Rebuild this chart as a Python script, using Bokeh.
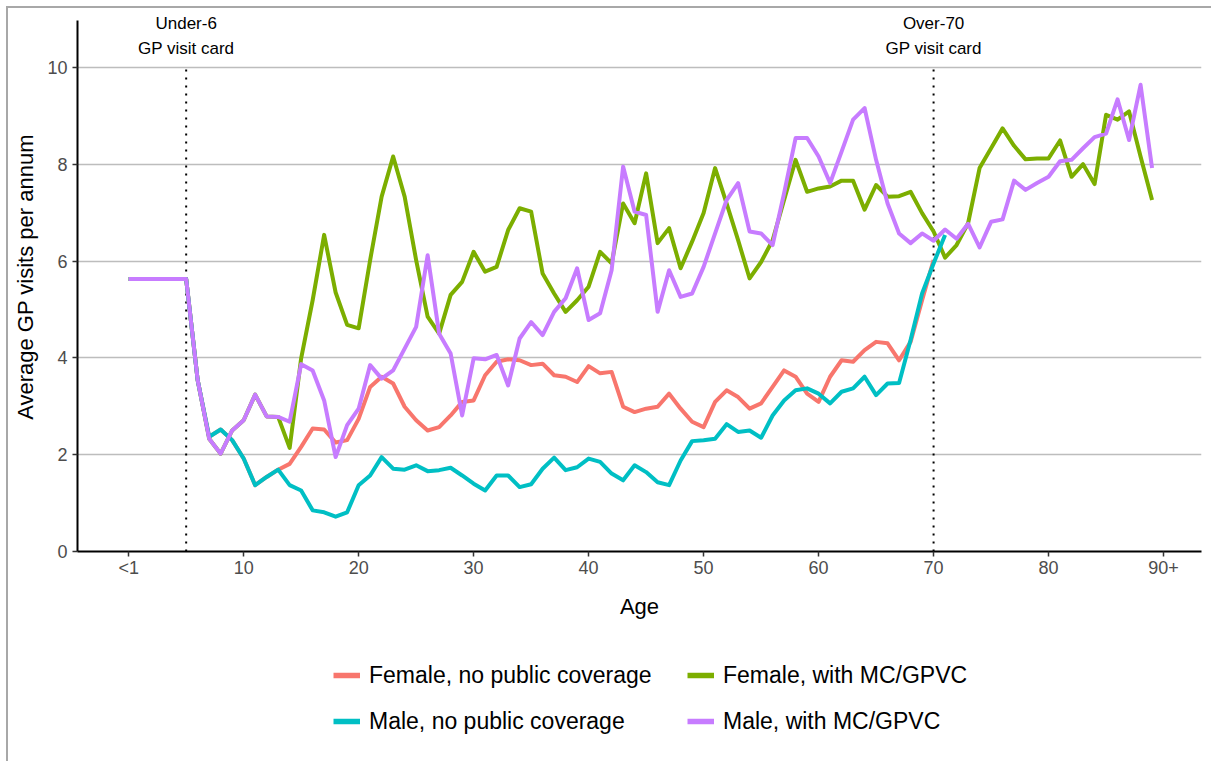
from bokeh.plotting import figure
from bokeh.models import Range1d, FixedTicker, Legend, LegendItem
from bokeh.layouts import column
from bokeh.embed import file_html
from bokeh.resources import INLINE
from bokeh.core.properties import value

# ---------------- data ----------------
series_names = ["Female, no public coverage", "Female, with MC/GPVC",
                "Male, no public coverage", "Male, with MC/GPVC"]
colors = ["#F8766D", "#7CAE00", "#00BFC4", "#C77CFF"]

female_no = [5.63, 5.63, 5.63, 5.63, 5.63, 5.63, 3.54, 2.37, 2.52, 2.30,
             1.92, 1.37, 1.54, 1.69, 1.81, 2.16, 2.54, 2.52, 2.25, 2.30,
             2.74, 3.40, 3.61, 3.47, 2.99, 2.71, 2.50, 2.57, 2.81, 3.09,
             3.12, 3.64, 3.92, 3.97, 3.95, 3.85, 3.88, 3.64, 3.61, 3.50,
             3.83, 3.68, 3.71, 2.99, 2.88, 2.95, 2.99, 3.26, 2.95, 2.68,
             2.57, 3.09, 3.33, 3.19, 2.95, 3.06, 3.40, 3.74, 3.61, 3.26,
             3.09, 3.61, 3.95, 3.92, 4.16, 4.33, 4.30, 3.95, 4.33, 5.19,
             6.02]
female_mc = [5.63, 5.63, 5.63, 5.63, 5.63, 5.63, 3.54, 2.33, 2.02, 2.50,
             2.71, 3.24, 2.79, 2.78, 2.14, 3.99, 5.19, 6.54, 5.35, 4.68,
             4.61, 6.02, 7.33, 8.16, 7.33, 6.02, 4.85, 4.50, 5.30, 5.57,
             6.19, 5.78, 5.88, 6.64, 7.09, 7.02, 5.74, 5.33, 4.95, 5.19,
             5.47, 6.19, 5.95, 7.19, 6.78, 7.81, 6.37, 6.68, 5.85, 6.40,
             6.99, 7.92, 7.19, 6.43, 5.64, 5.98, 6.43, 7.26, 8.09, 7.43,
             7.50, 7.54, 7.66, 7.66, 7.06, 7.57, 7.33, 7.34, 7.43, 6.99,
             6.61, 6.07, 6.33, 6.78, 7.92, 8.33, 8.74, 8.38, 8.10, 8.12,
             8.12, 8.49, 7.74, 8.00, 7.59, 9.02, 8.92, 9.09, 8.16, 7.26]
male_no = [5.63, 5.63, 5.63, 5.63, 5.63, 5.63, 3.54, 2.37, 2.52, 2.30,
           1.92, 1.37, 1.54, 1.69, 1.37, 1.26, 0.85, 0.81, 0.72, 0.81,
           1.37, 1.57, 1.95, 1.71, 1.69, 1.78, 1.66, 1.68, 1.73, 1.57,
           1.40, 1.26, 1.57, 1.57, 1.33, 1.39, 1.71, 1.94, 1.68, 1.74,
           1.92, 1.85, 1.61, 1.47, 1.78, 1.64, 1.43, 1.37, 1.88, 2.28,
           2.30, 2.33, 2.63, 2.47, 2.50, 2.35, 2.81, 3.12, 3.33, 3.37,
           3.26, 3.06, 3.30, 3.37, 3.61, 3.23, 3.47, 3.48, 4.37, 5.33,
           5.95, 6.54]
male_mc = [5.63, 5.63, 5.63, 5.63, 5.63, 5.63, 3.54, 2.33, 2.02, 2.50,
           2.71, 3.24, 2.79, 2.78, 2.68, 3.87, 3.74, 3.12, 1.95, 2.61,
           2.95, 3.85, 3.57, 3.74, 4.19, 4.64, 6.12, 4.50, 4.09, 2.81,
           3.99, 3.97, 4.06, 3.43, 4.40, 4.74, 4.47, 4.95, 5.23, 5.85,
           4.78, 4.92, 5.81, 7.95, 7.02, 6.95, 4.95, 5.81, 5.26, 5.33,
           5.88, 6.57, 7.26, 7.61, 6.61, 6.57, 6.33, 7.40, 8.54, 8.54,
           8.16, 7.61, 8.26, 8.92, 9.16, 8.09, 7.19, 6.57, 6.37, 6.57,
           6.42, 6.65, 6.46, 6.77, 6.28, 6.81, 6.86, 7.66, 7.47, 7.61,
           7.74, 8.06, 8.09, 8.33, 8.56, 8.63, 9.34, 8.50, 9.64, 7.92]
series_values = [female_no, female_mc, male_no, male_mc]

x_tick_values = [0, 10, 20, 30, 40, 50, 60, 70, 80, 90]
x_tick_labels = ["<1", "10", "20", "30", "40", "50", "60", "70", "80", "90+"]
y_tick_values = [0, 2, 4, 6, 8, 10]
y_axis_extent = (0, 10.97)

card_ages = [5, 70]
card_line1 = ["Under-6", "Over-70"]
card_line2 = ["GP visit card", "GP visit card"]
card_top = 10

FONT = "Liberation Sans"
BORDER = "#a8a8a8"

# ---------------- main chart ----------------
p = figure(width=1211, height=625,
           x_range=Range1d(-4.45, 93.3), y_range=Range1d(0, 11.34),
           output_backend="svg", toolbar_location=None,
           min_border_left=77, min_border_right=10, min_border_top=2,
           min_border_bottom=74)
p.outline_line_color = None
p.background_fill_alpha = 0
p.border_fill_alpha = 0

p.xgrid.visible = False
p.ygrid.ticker = FixedTicker(ticks=y_tick_values)
p.ygrid.grid_line_color = "#bdbdbd"
p.ygrid.grid_line_width = 1.6

p.xaxis.ticker = FixedTicker(ticks=x_tick_values)
p.xaxis.major_label_overrides = {v: l for v, l in zip(x_tick_values, x_tick_labels)}
p.yaxis.ticker = FixedTicker(ticks=y_tick_values)
p.yaxis.bounds = y_axis_extent
p.xaxis.axis_label = "Age"
p.yaxis.axis_label = "Average GP visits per annum"
for ax in (p.xaxis, p.yaxis):
    ax.axis_line_color = "black"
    ax.axis_line_width = 2
    ax.major_tick_line_color = "#333333"
    ax.major_tick_line_width = 1.5
    ax.major_tick_in = 0
    ax.major_tick_out = 5
    ax.minor_tick_line_color = None
    ax.major_label_text_font = FONT
    ax.major_label_text_font_size = "18px"
    ax.major_label_text_color = "#4d4d4d"
    ax.axis_label_text_font = FONT
    ax.axis_label_text_font_size = "22px"
    ax.axis_label_text_font_style = "normal"
    ax.axis_label_text_color = "black"
p.xaxis.major_label_standoff = 1
p.xaxis.axis_label_standoff = 13
p.yaxis.major_label_standoff = 5
p.yaxis.axis_label_standoff = 6

# policy lines and their notes
p.segment(x0=card_ages, y0=[0, 0], x1=card_ages, y1=[card_top, card_top],
          line_color="black", line_width=2, line_dash="2 6")
p.text(x=card_ages, y=[card_top, card_top], text=card_line1,
       y_offset=-44, text_align="center", text_baseline="middle",
       text_font=value(FONT), text_font_size="17px", text_color="black")
p.text(x=card_ages, y=[card_top, card_top], text=card_line2,
       y_offset=-19, text_align="center", text_baseline="middle",
       text_font=value(FONT), text_font_size="17px", text_color="black")

for vals, col in zip(series_values, colors):
    p.line(x=list(range(len(vals))), y=vals, line_color=col,
           line_width=4, line_join="round")

# ---------------- legend strip ----------------
leg = figure(width=1211, height=136, x_range=Range1d(-20, -10), y_range=Range1d(0, 1),
             output_backend="svg", toolbar_location=None,
             x_axis_location=None, y_axis_location=None, min_border=0)
leg.outline_line_color = None
leg.grid.visible = False
leg.background_fill_alpha = 0
leg.border_fill_alpha = 0

items = []
for name, vals, col in zip(series_names, series_values, colors):
    r = leg.line(x=list(range(len(vals))), y=vals, line_color=col, line_width=5.5)
    items.append(LegendItem(label=name, renderers=[r]))

legend = Legend(items=items, orientation="horizontal", ncols=2, location=(256, 26))
legend.label_text_font = FONT
legend.label_text_font_size = "23px"
legend.label_text_color = "black"
legend.glyph_width = 27
legend.glyph_height = 28
legend.label_height = 28
legend.label_width = 300
legend.label_standoff = 9
legend.spacing = 18
legend.padding = 0
legend.margin = 0
legend.border_line_color = None
legend.background_fill_alpha = 0
leg.add_layout(legend, "center")

layout = column(p, leg, spacing=0)
layout.styles = {
    "background-color": "white",
    "background-image": f"linear-gradient({BORDER}, {BORDER}), linear-gradient({BORDER}, {BORDER})",
    "background-size": "100% 2px, 2px 100%",
    "background-position": "6px 6px, 6px 6px",
    "background-repeat": "no-repeat",
}

open("out.html", "w").write(file_html(layout, INLINE))
